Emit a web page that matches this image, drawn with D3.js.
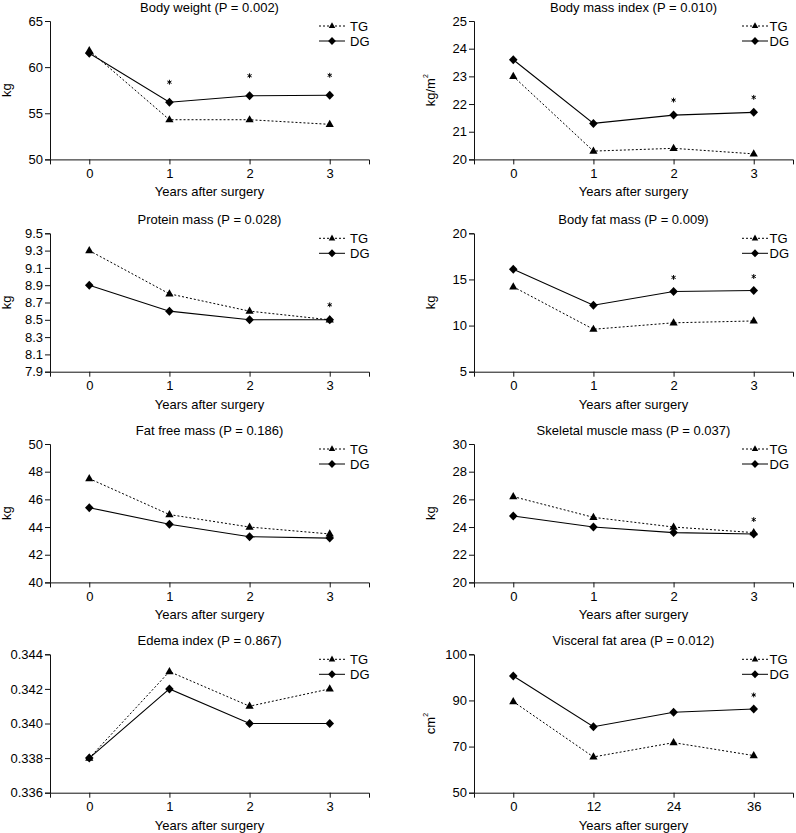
<!DOCTYPE html>
<html>
<head>
<meta charset="utf-8">
<script src="https://cdn.jsdelivr.net/npm/d3@7"></script>
<style>
  html, body { margin: 0; padding: 0; background: #fff; }
  svg text { font-family: "Liberation Sans", Arial, Helvetica, sans-serif; fill: #000; }
</style>
</head>
<body>
<svg id="chart" width="796" height="833"></svg>
<script>
// ---------- data ----------
const timePoints = [0, 1, 2, 3];
const yearTickLabels = ["0", "1", "2", "3"];
const monthTickLabels = ["0", "12", "24", "36"];
const seriesNames = ["TG", "DG"];

const bodyWeightTG = [61.8, 54.3, 54.3, 53.8];
const bodyWeightDG = [61.5, 56.2, 56.9, 56.95];
const bodyWeightSig = [1, 2, 3];
const bodyWeightTicks = [50, 55, 60, 65];

const bmiTG = [23.0, 20.3, 20.4, 20.2];
const bmiDG = [23.6, 21.3, 21.6, 21.7];
const bmiSig = [2, 3];
const bmiTicks = [20, 21, 22, 23, 24, 25];

const proteinTG = [9.3, 8.8, 8.6, 8.5];
const proteinDG = [8.9, 8.6, 8.5, 8.5];
const proteinSig = [3];
const proteinTicks = [7.9, 8.1, 8.3, 8.5, 8.7, 8.9, 9.1, 9.3, 9.5];

const fatMassTG = [14.2, 9.6, 10.3, 10.5];
const fatMassDG = [16.1, 12.2, 13.7, 13.8];
const fatMassSig = [2, 3];
const fatMassTicks = [5, 10, 15, 20];

const fatFreeTG = [47.5, 44.9, 44.0, 43.5];
const fatFreeDG = [45.4, 44.2, 43.3, 43.2];
const fatFreeSig = [];
const fatFreeTicks = [40, 42, 44, 46, 48, 50];

const muscleTG = [26.2, 24.7, 24.0, 23.6];
const muscleDG = [24.8, 24.0, 23.6, 23.5];
const muscleSig = [3];
const muscleTicks = [20, 22, 24, 26, 28, 30];

const edemaTG = [0.338, 0.343, 0.341, 0.342];
const edemaDG = [0.338, 0.342, 0.340, 0.340];
const edemaSig = [];
const edemaTicks = [0.336, 0.338, 0.340, 0.342, 0.344];

const visceralTG = [89.5, 65.5, 71.7, 66.1];
const visceralDG = [100.6, 78.6, 84.9, 86.3];
const visceralSig = [3];
const visceralTicks = [50, 70, 90, 110];
const visceralTickLabels = ["50", "70", "90", "100"];

// ---------- panel definitions ----------
const panels = [
  { title: "Body weight (P = 0.002)", unit: "kg", tg: bodyWeightTG, dg: bodyWeightDG, sig: bodyWeightSig,
    ticks: bodyWeightTicks, fmt: d3.format("d"), xLabels: yearTickLabels, col: 0, row: 0, starOff: 20 },
  { title: "Body mass index (P = 0.010)", unit: "kg/m", sup: "2", tg: bmiTG, dg: bmiDG, sig: bmiSig,
    ticks: bmiTicks, fmt: d3.format("d"), xLabels: yearTickLabels, col: 1, row: 0, starOff: 15 },
  { title: "Protein mass (P = 0.028)", unit: "kg", tg: proteinTG, dg: proteinDG, sig: proteinSig,
    ticks: proteinTicks, fmt: d3.format(".1f"), xLabels: yearTickLabels, col: 0, row: 1, starOff: 15 },
  { title: "Body fat mass (P = 0.009)", unit: "kg", tg: fatMassTG, dg: fatMassDG, sig: fatMassSig,
    ticks: fatMassTicks, fmt: d3.format("d"), xLabels: yearTickLabels, col: 1, row: 1, starOff: 14 },
  { title: "Fat free mass (P = 0.186)", unit: "kg", tg: fatFreeTG, dg: fatFreeDG, sig: fatFreeSig,
    ticks: fatFreeTicks, fmt: d3.format("d"), xLabels: yearTickLabels, col: 0, row: 2, starOff: 14 },
  { title: "Skeletal muscle mass (P = 0.037)", unit: "kg", tg: muscleTG, dg: muscleDG, sig: muscleSig,
    ticks: muscleTicks, fmt: d3.format("d"), xLabels: yearTickLabels, col: 1, row: 2, starOff: 13 },
  { title: "Edema index (P = 0.867)", unit: null, tg: edemaTG, dg: edemaDG, sig: edemaSig,
    ticks: edemaTicks, fmt: d3.format(".3f"), xLabels: yearTickLabels, col: 0, row: 3, starOff: 14 },
  { title: "Visceral fat area (P = 0.012)", unit: "cm", sup: "2", tg: visceralTG, dg: visceralDG, sig: visceralSig,
    ticks: visceralTicks, tickLabels: visceralTickLabels, xLabels: monthTickLabels, col: 1, row: 3, starOff: 14 }
];

// ---------- layout ----------
const colX = [50, 474];
const rowY = [21, 233.3, 444, 654.3];
const plotW = 319;
const plotH = 138.4;
const legendMarkerX = [282, 281];
const legendTextX = [300, 295.5];

const svg = d3.select("#chart");

const triPath = s => `M0,${-4.6*s}L${4.1*s},${2.6*s}L${-4.1*s},${2.6*s}Z`;
const diaPath = s => `M0,${-4.5*s}L${4.3*s},0L0,${4.5*s}L${-4.3*s},0Z`;
const starSymbol = d3.symbol().type(d3.symbolAsterisk).size(16);

panels.forEach(p => {
  const x0 = colX[p.col], y0 = rowY[p.row];
  const g = svg.append("g").attr("transform", `translate(${x0},${y0})`);

  const x = d3.scaleLinear().domain([-0.49, 3.49]).range([0, plotW]);
  const y = d3.scaleLinear().domain([p.ticks[0], p.ticks[p.ticks.length - 1]]).range([plotH, 0]);

  // axes
  const xAxis = d3.axisBottom(x).tickValues(timePoints)
    .tickFormat((d, i) => p.xLabels[i]).tickSize(5).tickPadding(4);
  const yAxis = d3.axisLeft(y).tickValues(p.ticks)
    .tickFormat((d, i) => p.tickLabels ? p.tickLabels[i] : p.fmt(d)).tickSize(5).tickPadding(2);

  const gx = g.append("g").attr("transform", `translate(0,${plotH})`).call(xAxis);
  const gy = g.append("g").call(yAxis);
  [gx, gy].forEach(a => {
    a.selectAll("path, line").attr("stroke", "#111").attr("stroke-width", 1);
    a.selectAll("text").attr("font-size", 13).attr("fill", "#000")
      .attr("font-family", '"Liberation Sans", Arial, Helvetica, sans-serif');
  });

  // title
  g.append("text").attr("x", plotW / 2).attr("y", -9)
    .attr("text-anchor", "middle").attr("font-size", 13).text(p.title);

  // x label
  g.append("text").attr("x", plotW / 2).attr("y", plotH + 37)
    .attr("text-anchor", "middle").attr("font-size", 13).text("Years after surgery");

  // y label
  if (p.unit) {
    const t = g.append("text")
      .attr("transform", `translate(-44,${plotH / 2}) rotate(-90)`)
      .attr("text-anchor", "middle").attr("dy", "0.35em").attr("font-size", 13);
    t.append("tspan").text(p.unit);
    if (p.sup) t.append("tspan").attr("font-size", 7).attr("dy", "-0.9em").text(p.sup);
  }

  // lines
  const line = d3.line().x((d, i) => x(timePoints[i])).y(d => y(d));
  g.append("path").datum(p.tg).attr("d", line).attr("fill", "none")
    .attr("stroke", "#000").attr("stroke-width", 1).attr("stroke-dasharray", "2,2");
  g.append("path").datum(p.dg).attr("d", line).attr("fill", "none")
    .attr("stroke", "#000").attr("stroke-width", 1.1);

  // markers
  g.selectAll(".tri").data(p.tg).enter().append("path")
    .attr("d", triPath(1)).attr("fill", "#000")
    .attr("transform", (d, i) => `translate(${x(timePoints[i])},${y(d)})`);
  g.selectAll(".dia").data(p.dg).enter().append("path")
    .attr("d", diaPath(1)).attr("fill", "#000")
    .attr("transform", (d, i) => `translate(${x(timePoints[i])},${y(d)})`);

  // significance stars
  g.selectAll(".star").data(p.sig).enter().append("path")
    .attr("d", starSymbol).attr("fill", "none").attr("stroke", "#000").attr("stroke-width", 1)
    .attr("transform", i => `translate(${x(timePoints[i])},${y(Math.max(p.tg[i], p.dg[i])) - p.starOff})`);

  // legend
  const lm = legendMarkerX[p.col], lt = legendTextX[p.col];
  const leg = [{ name: seriesNames[0], dash: "2,2", shape: triPath(0.8), dy: 5 },
               { name: seriesNames[1], dash: null, shape: diaPath(0.9), dy: 20 }];
  leg.forEach(l => {
    g.append("line").attr("x1", lm - 13).attr("x2", lm + 13).attr("y1", l.dy).attr("y2", l.dy)
      .attr("stroke", "#000").attr("stroke-width", 1).attr("stroke-dasharray", l.dash);
    g.append("path").attr("d", l.shape).attr("fill", "#000")
      .attr("transform", `translate(${lm},${l.dy})`);
    g.append("text").attr("x", lt).attr("y", l.dy).attr("dy", "0.36em")
      .attr("font-size", 13).text(l.name);
  });
});
</script>
</body>
</html>
